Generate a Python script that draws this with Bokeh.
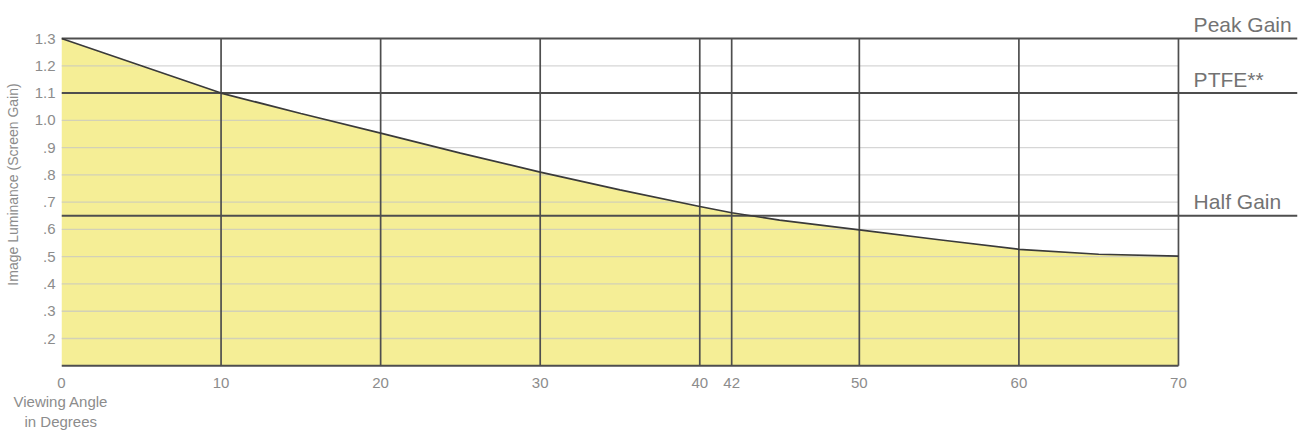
from bokeh.plotting import figure
from bokeh.models import Range1d, FixedTicker, Title
from bokeh.core.properties import value
from bokeh.embed import file_html
from bokeh.resources import INLINE

# ---- data ----
angles = [0, 5, 10, 15, 20, 25, 30, 35, 40, 42, 45, 50, 55, 60, 65, 70]
gain = [1.30, 1.20, 1.10, 1.025, 0.953, 0.88, 0.81, 0.745, 0.684, 0.661, 0.634, 0.598, 0.562, 0.527, 0.509, 0.502]

x_ticks = [0, 10, 20, 30, 40, 42, 50, 60, 70]
y_ticks = [0.2, 0.3, 0.4, 0.5, 0.6, 0.7, 0.8, 0.9, 1.0, 1.1, 1.2, 1.3]
y_tick_labels = [".2", ".3", ".4", ".5", ".6", ".7", ".8", ".9", "1.0", "1.1", "1.2", "1.3"]

ref_names = ["Peak Gain", "PTFE**", "Half Gain"]
ref_values = [1.3, 1.1, 0.65]

x_title_lines = ["Viewing Angle", "in Degrees"]

y_floor = 0.1
x_max = 70
x_end = 77.46

FONT = "Liberation Sans"
DARK = "#4e4e4e"
TXT = "#8c8c8c"

p = figure(width=1302, height=435, output_backend="svg", toolbar_location=None,
           x_range=Range1d(0, x_end), y_range=Range1d(0.09, 1.4394),
           min_border_left=61, min_border_right=5, min_border_top=0, min_border_bottom=67,
           background_fill_color="white", border_fill_color="white")
p.outline_line_color = None
p.xgrid.visible = False
p.ygrid.visible = False

# fill under the curve
p.varea(x=angles, y1=[y_floor] * len(angles), y2=gain, fill_color="#f5ee96")

# light gridlines
light = [v for v in y_ticks if v not in ref_values]
p.segment(x0=[0] * len(light), y0=light, x1=[x_max] * len(light), y1=light,
          line_color="#c4c4c4", line_alpha=0.7, line_width=1.3)

# vertical dark lines
vx = x_ticks[1:]
p.segment(x0=vx, y0=[y_floor] * len(vx), x1=vx, y1=[max(ref_values)] * len(vx),
          line_color=DARK, line_width=1.7)

# bottom line
p.segment(x0=[0], y0=[y_floor], x1=[x_max], y1=[y_floor], line_color=DARK, line_width=1.8)

# reference lines
p.segment(x0=[0] * len(ref_values), y0=ref_values, x1=[x_end] * len(ref_values), y1=ref_values,
          line_color=DARK, line_width=1.9)

# curve
p.line(angles, gain, line_color="#3a3a3a", line_width=1.7)

# reference labels
p.text(x=[70.95] * len(ref_names), y=[v + 0.051 for v in ref_values], text=ref_names,
       text_font=value(FONT), text_font_size="21px", text_color="#737373",
       text_align="left", text_baseline="alphabetic")

# axes
p.xaxis.ticker = FixedTicker(ticks=x_ticks)
p.xaxis.axis_line_color = None
p.xaxis.major_tick_line_color = None
p.xaxis.minor_tick_line_color = None
p.xaxis.major_tick_out = 0
p.xaxis.major_tick_in = 0
p.xaxis.minor_tick_out = 0
p.xaxis.major_label_standoff = 9
p.xaxis.major_label_text_font = FONT
p.xaxis.major_label_text_font_size = "15px"
p.xaxis.major_label_text_color = TXT

p.yaxis.ticker = FixedTicker(ticks=y_ticks)
p.yaxis.major_label_overrides = {v: s for v, s in zip(y_ticks, y_tick_labels)}
p.yaxis.axis_line_color = None
p.yaxis.major_tick_line_color = None
p.yaxis.minor_tick_line_color = None
p.yaxis.major_tick_out = 0
p.yaxis.major_tick_in = 0
p.yaxis.minor_tick_out = 0
p.yaxis.major_label_standoff = 6
p.yaxis.major_label_text_font = FONT
p.yaxis.major_label_text_font_size = "15px"
p.yaxis.major_label_text_color = TXT
p.yaxis.axis_label = "Image Luminance (Screen Gain)"
p.yaxis.axis_label_text_font = FONT
p.yaxis.axis_label_text_font_size = "14px"
p.yaxis.axis_label_text_font_style = "normal"
p.yaxis.axis_label_text_color = TXT
p.yaxis.axis_label_standoff = 11

# x-axis title, two lines, centred under the 0 tick
for line_text, off in zip(x_title_lines, [-48, -37]):
    p.add_layout(Title(text=line_text, align="left", offset=off, standoff=1,
                       text_font=FONT, text_font_size="15px", text_font_style="normal",
                       text_color=TXT), "below")

open("out.html", "w").write(file_html(p, INLINE))
